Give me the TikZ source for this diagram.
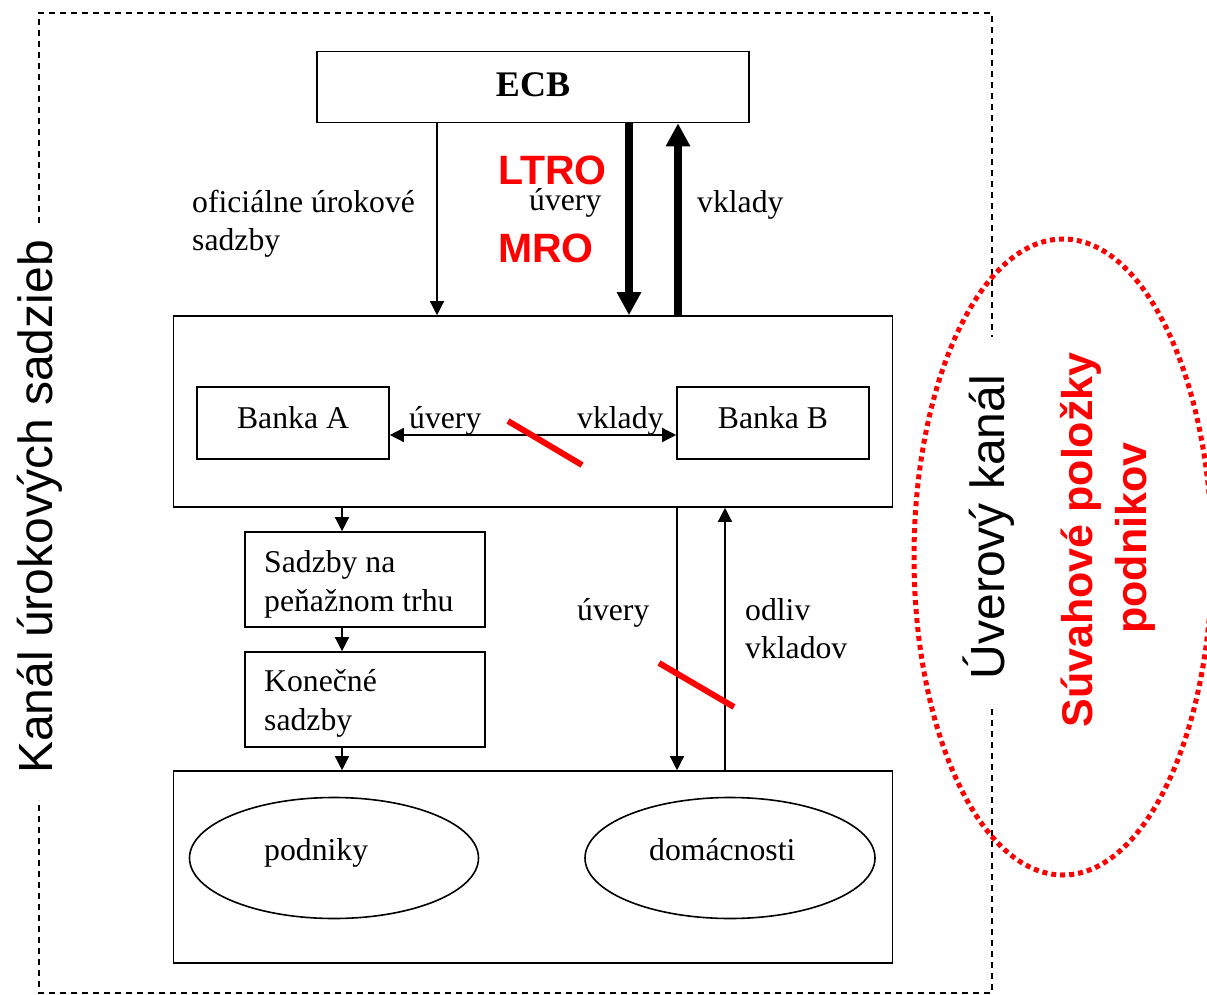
\documentclass[tikz,border=0pt]{standalone}
\usepackage{fontspec}
\setmainfont{Liberation Serif}
\newfontfamily\arialf{Liberation Sans}
\usetikzlibrary{arrows.meta,shapes.geometric}
\newcommand\txtf{\fontsize{31.7}{38}\selectfont}
\begin{document}
\begin{tikzpicture}[x=1pt,y=-1pt,
  box/.style={draw, line width=1.6pt, inner sep=0pt, font=\txtf},
  oval/.style={draw, ellipse, line width=1.6pt, inner sep=0pt},
  lbl/.style={inner sep=0pt, anchor=base west, font=\txtf},
  thinarr/.style={line width=1.4pt, -{Triangle[length=14pt,width=14pt]}},
  thickarr/.style={line width=8pt, -{Triangle[length=23pt,width=23pt]}},
  slash/.style={red, line width=6pt},
  frame/.style={line width=1.3pt, dash pattern=on 6pt off 5pt},
]
\useasboundingbox (0,0) rectangle (1207,995);

% outer dashed frame (broken around the side titles)
\draw[frame] (39,223) -- (39,13) -- (992,13) -- (992,337);
\draw[frame] (992,709) -- (992,993) -- (39,993) -- (39,800);

% boxes
\node[box, minimum width=432pt, minimum height=71pt, text height=24pt, text depth=4pt] (ecb) at (533,87)
  {\fontsize{36}{40}\selectfont\bfseries ECB};
\node[box, minimum width=719pt, minimum height=191pt] (bank) at (533,411.5) {};
\node[box, minimum width=192pt, minimum height=72pt, text height=21.5pt, text depth=10pt] (ba) at (293,423) {Banka A};
\node[box, minimum width=192pt, minimum height=72pt, text height=21.5pt, text depth=10pt] (bb) at (773,423) {Banka B};
\node[box, minimum width=240pt, minimum height=95pt] (sad) at (365,579.5) {};
\node[box, minimum width=240pt, minimum height=95pt] (kon) at (365,699.5) {};
\node[box, minimum width=719pt, minimum height=192pt] (bot) at (533,867) {};
\node[oval, minimum width=289pt, minimum height=121pt] (pod) at (334,858) {};
\node[oval, minimum width=290pt, minimum height=121pt] (dom) at (730,858) {};

% texts
\node[lbl] (podt) at (264,860) {podniky};
\node[lbl] (domt) at (649,860) {domácnosti};
\node[lbl] (s1) at (264,572) {Sadzby na};
\node[lbl] (s2) at (264,611) {peňažnom trhu};
\node[lbl] (k1) at (264,691) {Konečné};
\node[lbl] (k2) at (264,730) {sadzby};
\node[lbl] (of1) at (192,212) {oficiálne úrokové};
\node[lbl] (of2) at (192,250) {sadzby};
\node[lbl] (uv1) at (529,211) {úvery};
\node[lbl] (vk1) at (697,212) {vklady};
\node[lbl] (uv2) at (409,428) {úvery};
\node[lbl] (vk2) at (577,428) {vklady};
\node[lbl] (uv3) at (577,620) {úvery};
\node[lbl] (od1) at (745,620) {odliv};
\node[lbl] (od2) at (745,658) {vkladov};
\node[lbl, text=red, font=\arialf\fontsize{41}{45}\selectfont\bfseries] (ltro) at (498,185) {LTRO};
\node[lbl, text=red, font=\arialf\fontsize{41}{45}\selectfont\bfseries] (mro) at (498,262) {MRO};

% side titles
\node[inner sep=0pt, anchor=base, rotate=90, font=\arialf\fontsize{48}{52}\selectfont] (kanal) at (52,507) {Kanál úrokových sadzieb};
\node[inner sep=0pt, anchor=base, rotate=90, font=\arialf\fontsize{48}{52}\selectfont] (uver) at (1004,527) {Úverový kanál};
\node[inner sep=0pt, anchor=base, rotate=90, text=red, font=\arialf\fontsize{43}{48}\selectfont\bfseries] (sv1) at (1092,540) {Súvahové položky};
\node[inner sep=0pt, anchor=base, rotate=90, text=red, font=\arialf\fontsize{43}{48}\selectfont\bfseries] (sv2) at (1146,538) {podnikov};
\node[draw=red, ellipse, line width=5pt, dash pattern=on 5pt off 4pt, minimum width=298pt, minimum height=636pt, inner sep=0pt] (ell) at (1063,557) {};

% connectors
\draw[thinarr] ([xshift=-96pt]ecb.south) -- ([xshift=-96pt]bank.north);
\draw[thickarr] ([xshift=96pt]ecb.south) -- ([xshift=96pt]bank.north);
\draw[thickarr] ([xshift=145pt]bank.north) -- ([xshift=145pt]ecb.south);
\draw[line width=1.4pt, {Triangle[length=14pt,width=14pt]}-{Triangle[length=14pt,width=14pt]}]
  ([yshift=-12pt]ba.east) -- ([yshift=-12pt]bb.west);
\coordinate (sadtop) at ([xshift=-23pt]sad.north);
\coordinate (kontop) at ([xshift=-23pt]kon.north);
\coordinate (konbot) at ([xshift=-23pt]kon.south);
\draw[thinarr] (sadtop |- bank.south) -- (sadtop);
\draw[thinarr] ([xshift=-23pt]sad.south) -- (kontop);
\draw[thinarr] (konbot) -- (konbot |- bot.north);
\draw[thinarr] ([xshift=144pt]bank.south) -- ([xshift=144pt]bot.north);
\draw[thinarr] ([xshift=192pt]bot.north) -- ([xshift=192pt]bank.south);

% red strike marks
\draw[slash] (508,421) -- (582,465);
\draw[slash] (659,663) -- (734,707);
\end{tikzpicture}
\end{document}
